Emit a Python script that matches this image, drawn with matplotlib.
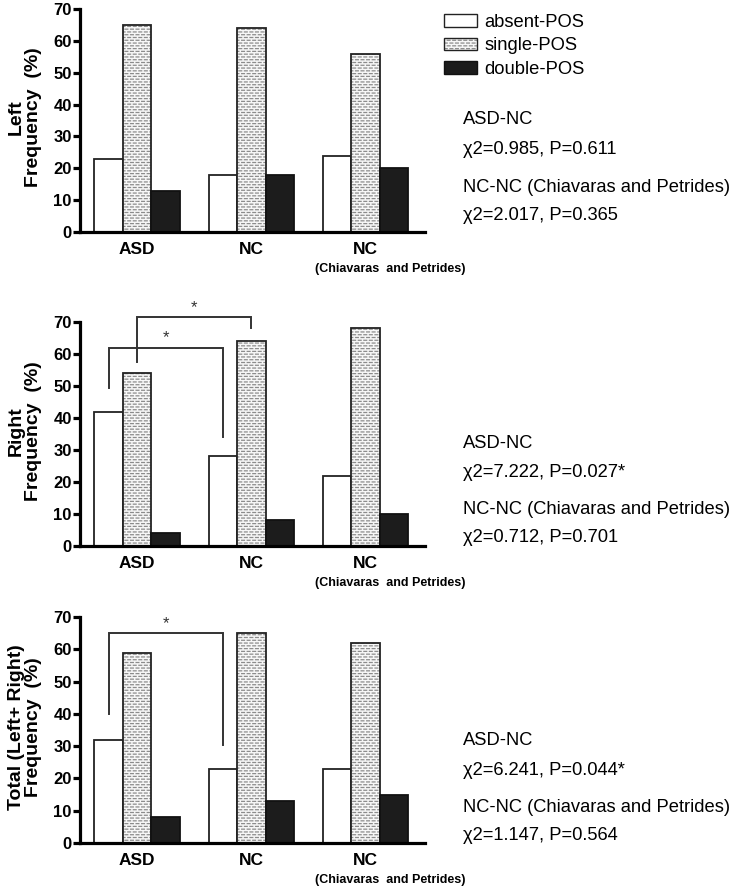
import matplotlib
matplotlib.use("Agg")
import matplotlib.pyplot as plt
import matplotlib.hatch as mhatch
from matplotlib.path import Path
from matplotlib.patches import Patch
import numpy as np

plt.rcParams['font.family'] = ['Liberation Sans', 'DejaVu Sans']
plt.rcParams['hatch.linewidth'] = 0.9


# dashed horizontal hatch (brick-like short dashes) in place of continuous lines
class DashedHorizontalHatch(mhatch.HatchPatternBase):
    def __init__(self, hatch, density):
        self.num_lines = int((hatch.count('-') + hatch.count('+')) * density)
        self.num_dashes = max(self.num_lines // 2, 1)
        self.num_vertices = self.num_lines * self.num_dashes * 2

    def set_vertices_and_codes(self, vertices, codes):
        n, m = self.num_lines, self.num_dashes
        if n == 0:
            return
        seg = 1.0 / m
        idx = 0
        for r in range(n):
            y = (r + 0.5) / n
            shift = seg / 2 if r % 2 else 0.0
            for j in range(m):
                x0 = j * seg + shift
                vertices[idx] = (x0, y)
                vertices[idx + 1] = (x0 + seg / 2, y)
                codes[idx] = Path.MOVETO
                codes[idx + 1] = Path.LINETO
                idx += 2


try:
    mhatch._hatch_types = [DashedHorizontalHatch if t is mhatch.HorizontalHatch else t
                           for t in mhatch._hatch_types]
except Exception:
    pass

# ---------------- data ----------------
groups = ['ASD', 'NC', 'NC']
group_note = '(Chiavaras  and Petrides)'
series = ['absent-POS', 'single-POS', 'double-POS']

left_absent = [23, 18, 24]
left_single = [65, 64, 56]
left_double = [13, 18, 20]

right_absent = [42, 28, 22]
right_single = [54, 64, 68]
right_double = [4, 8, 10]

total_absent = [32, 23, 23]
total_single = [59, 65, 62]
total_double = [8, 13, 15]

ylabels = ['Left\nFrequency  (%)', 'Right\nFrequency  (%)', 'Total (Left+ Right)\nFrequency  (%)']

stats_left = ['ASD-NC', 'χ2=0.985, P=0.611', 'NC-NC (Chiavaras and Petrides)', 'χ2=2.017, P=0.365']
stats_right = ['ASD-NC', 'χ2=7.222, P=0.027*', 'NC-NC (Chiavaras and Petrides)', 'χ2=0.712, P=0.701']
stats_total = ['ASD-NC', 'χ2=6.241, P=0.044*', 'NC-NC (Chiavaras and Petrides)', 'χ2=1.147, P=0.564']

# brackets: (group a, series a, group b, series b, top value, left leg end, right leg end)
brackets_left = []
brackets_right = [(0, 0, 1, 0, 62, 49.5, 34), (0, 1, 1, 1, 71.6, 57.5, 68)]
brackets_total = [(0, 0, 1, 0, 65, 40, 30.5)]

panels = [
    (left_absent, left_single, left_double, ylabels[0], stats_left, brackets_left),
    (right_absent, right_single, right_double, ylabels[1], stats_right, brackets_right),
    (total_absent, total_single, total_double, ylabels[2], stats_total, brackets_total),
]

# ---------------- layout (pixels) ----------------
W, H = 742, 888
fig = plt.figure(figsize=(W / 100, H / 100), dpi=100)
ax_left_px, ax_right_px = 80, 425
panel_px = [(9, 232), (322, 546), (617, 843)]
stats_px = [(120, 149, 187, 215), (443, 472, 510, 537), (740, 770, 807, 835)]

bar_w = 0.25
offsets = [-bar_w, 0, bar_w]
hatch_gray = (0.55, 0.55, 0.55, 1.0)
styles = [dict(facecolor='white', edgecolor='#222222', hatch=None),
          dict(facecolor='#f7f7f7', edgecolor='#222222', hatch='------'),
          dict(facecolor='#1c1c1c', edgecolor='#111111', hatch=None)]

x = np.arange(len(groups))
for i, (a, s, d, ylab, stats, brs) in enumerate(panels):
    top, bot = panel_px[i]
    ax = fig.add_axes([ax_left_px / W, 1 - bot / H,
                       (ax_right_px - ax_left_px) / W, (bot - top) / H])
    for k, vals in enumerate([a, s, d]):
        st = styles[k]
        bars = ax.bar(x + offsets[k], vals, width=bar_w, facecolor=st['facecolor'],
                      edgecolor=st['edgecolor'], linewidth=1.3, hatch=st['hatch'],
                      zorder=2)
        if st['hatch']:
            for b in bars:
                b._hatch_color = hatch_gray
    ax.set_xlim(-0.5, 2.52)
    ax.set_ylim(0, 70)
    ax.set_yticks(np.arange(0, 71, 10))
    for sp in ['top', 'right']:
        ax.spines[sp].set_visible(False)
    for sp in ['left', 'bottom']:
        ax.spines[sp].set_linewidth(2.3)
        ax.spines[sp].set_color('black')
    ax.tick_params(axis='y', length=5, width=2.3, pad=1, labelsize=12)
    for t in ax.get_yticklabels():
        t.set_fontweight('bold')
    ax.set_xticks(x)
    ax.set_xticklabels(groups, fontsize=12.5, fontweight='bold')
    ax.tick_params(axis='x', length=0, pad=7)
    ax.annotate(group_note, xy=(2.22, 0), xycoords=('data', 'axes fraction'),
                xytext=(0, -26.5), textcoords='offset points', ha='center', va='center',
                fontsize=9, fontweight='bold', annotation_clip=False)
    # y label
    fig.text(25 / W, 1 - ((top + bot) / 2 - 3) / H, ylab, rotation=90, ha='center',
             va='center', multialignment='center', fontsize=14, fontweight='bold',
             linespacing=1.05)
    # stats
    for line, ypx in zip(stats, stats_px[i]):
        fig.text(463 / W, 1 - ypx / H, line, ha='left', va='center', fontsize=13.2)
    # brackets
    for (ga, sa, gb, sb, ytop, yl, yr) in brs:
        xa = x[ga] + offsets[sa]
        xb = x[gb] + offsets[sb]
        ax.plot([xa, xa, xb, xb], [yl, ytop, ytop, yr], color='#333333', lw=1.4,
                clip_on=False, zorder=3, solid_joinstyle='miter')
        ax.annotate('*', xy=((xa + xb) / 2, ytop), xycoords='data', xytext=(0, 1.5),
                    textcoords='offset points', ha='center', va='bottom',
                    fontsize=12, color='#333333', annotation_clip=False)

handles = [Patch(facecolor=st['facecolor'], edgecolor=st['edgecolor'], hatch=st['hatch'],
                 linewidth=1.0) for st in styles]
leg = fig.legend(handles, series, loc='upper left', bbox_to_anchor=(444 / W, 1 - 14 / H),
                 frameon=False, fontsize=13.2, handlelength=1.8, handleheight=0.65,
                 handletextpad=0.4, labelspacing=0.35, borderpad=0, borderaxespad=0)
for p in leg.get_patches():
    if p.get_hatch():
        p._hatch_color = hatch_gray

fig.savefig('out.png', dpi=100)
